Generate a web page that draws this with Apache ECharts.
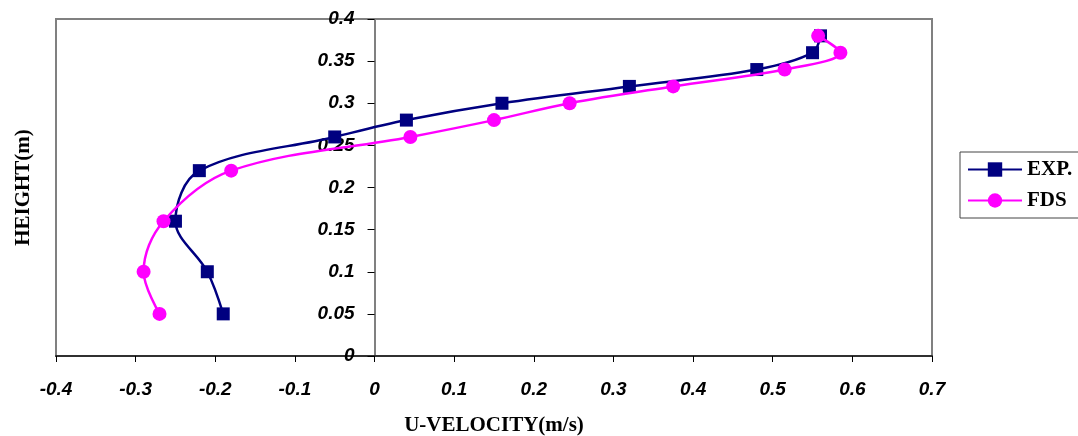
<!DOCTYPE html>
<html>
<head>
<meta charset="utf-8">
<title>U-velocity profile</title>
<script src="https://cdn.jsdelivr.net/npm/echarts@6/dist/echarts.min.js"></script>
<style>
  html, body { margin: 0; padding: 0; background: #fff; }
  #chart { width: 1078px; height: 436px; }
</style>
</head>
<body>
<div id="chart"></div>
<script>
// Measured heights (m) and U-velocity (m/s) at each height
const expHeight = [0.05, 0.10, 0.16, 0.22, 0.26, 0.28, 0.30, 0.32, 0.34, 0.36, 0.38];
const expVelocity = [-0.19, -0.21, -0.25, -0.22, -0.05, 0.04, 0.16, 0.32, 0.48, 0.55, 0.56];

// FDS simulation at the same heights
const fdsHeight = [0.05, 0.10, 0.16, 0.22, 0.26, 0.28, 0.30, 0.32, 0.34, 0.36, 0.38];
const fdsVelocity = [-0.27, -0.29, -0.265, -0.18, 0.045, 0.15, 0.245, 0.375, 0.515, 0.585, 0.557];

const seriesNames = ['EXP.', 'FDS'];
const xTicks = { min: -0.4, max: 0.7, step: 0.1 };
const yTicks = { min: 0, max: 0.4, step: 0.05 };

const pairs = (xs, ys) => xs.map((x, i) => [x, ys[i]]);
const fmt = v => String(parseFloat(Number(v).toFixed(2)));

// Plot area placement
const W = 1078, H = 436;
const gridBox = { left: 56, top: 19, right: 146, bottom: 80 };
const plotWidth = W - gridBox.left - gridBox.right;
// The height axis sits on velocity = 0; shift it right from the grid's left edge
const zeroShift = plotWidth * (0 - xTicks.min) / (xTicks.max - xTicks.min);

const tickFont = {
  fontFamily: '"Liberation Sans", Arial, sans-serif',
  fontWeight: 'bold',
  fontStyle: 'italic',
  fontSize: 19,
  color: '#000'
};
const nameFont = {
  fontFamily: '"Liberation Serif", "Times New Roman", serif',
  fontWeight: 'bold',
  fontSize: 21,
  color: '#000'
};

const chart = echarts.init(document.getElementById('chart'), null, { renderer: 'canvas' });
chart.setOption({
  animation: false,
  backgroundColor: '#fff',
  grid: Object.assign({
    outerBoundsMode: 'none',
    containLabel: false,
    show: true,
    borderColor: '#808080',
    borderWidth: 2,
    backgroundColor: 'transparent'
  }, gridBox),
  legend: {
    orient: 'vertical',
    left: 960,
    top: 152,
    padding: [7, 10, 7, 7],
    itemGap: 10,
    itemWidth: 54,
    itemHeight: 18,
    borderColor: '#444',
    borderWidth: 1,
    textStyle: Object.assign({}, nameFont, { fontSize: 21 }),
    data: seriesNames
  },
  xAxis: {
    type: 'value',
    min: xTicks.min,
    max: xTicks.max,
    interval: xTicks.step,
    name: 'U-VELOCITY(m/s)',
    nameLocation: 'middle',
    nameGap: 59,
    nameTextStyle: nameFont,
    axisLine: { show: true, onZero: false, lineStyle: { color: '#303030', width: 2 } },
    axisTick: { show: true, inside: false, length: 6, lineStyle: { color: '#000', width: 1 } },
    axisLabel: Object.assign({ margin: 24, formatter: fmt }, tickFont),
    splitLine: { show: false }
  },
  yAxis: {
    type: 'value',
    position: 'left',
    offset: -zeroShift,
    min: yTicks.min,
    max: yTicks.max,
    interval: yTicks.step,
    name: 'HEIGHT(m)',
    nameLocation: 'middle',
    nameGap: 340,
    nameTextStyle: nameFont,
    axisLine: { show: true, onZero: false, lineStyle: { color: '#808080', width: 2 } },
    axisTick: { show: true, inside: false, length: 7, lineStyle: { color: '#000', width: 1 } },
    axisLabel: Object.assign({ margin: 20, formatter: fmt }, tickFont),
    splitLine: { show: false }
  },
  series: [
    {
      name: seriesNames[0],
      type: 'line',
      smooth: 0.35,
      data: pairs(expVelocity, expHeight),
      symbol: 'rect',
      symbolSize: 13,
      color: '#000080',
      lineStyle: { color: '#000080', width: 2.5 },
      itemStyle: { color: '#000080' },
      z: 2
    },
    {
      name: seriesNames[1],
      type: 'line',
      smooth: 0.35,
      data: pairs(fdsVelocity, fdsHeight),
      symbol: 'circle',
      symbolSize: 14,
      color: '#FF00FF',
      lineStyle: { color: '#FF00FF', width: 2.5 },
      itemStyle: { color: '#FF00FF' },
      z: 3
    }
  ]
});
</script>
</body>
</html>
